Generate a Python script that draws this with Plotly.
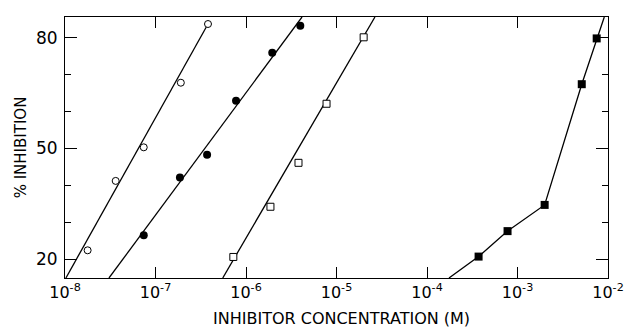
import plotly.graph_objects as go

# Data (concentration in M, % inhibition)
open_circle_x = [10**-7.75, 10**-7.44, 10**-7.13, 10**-6.72, 10**-6.42]
open_circle_y = [22.4, 41.2, 50.3, 67.8, 83.7]

filled_circle_x = [10**-7.13, 10**-6.73, 10**-6.43, 10**-6.11, 10**-5.71, 10**-5.40]
filled_circle_y = [26.5, 42.1, 48.3, 62.9, 75.9, 83.2]

open_square_x = [10**-6.14, 10**-5.73, 10**-5.42, 10**-5.11, 10**-4.70]
open_square_y = [20.6, 34.2, 46.1, 62.1, 80.1]

filled_square_x = [10**-3.43, 10**-3.11, 10**-2.70, 10**-2.29, 10**-2.125]
filled_square_y = [20.7, 27.6, 34.7, 67.4, 79.8]

# Drawn fit lines (end points)
open_circle_fit_x = [10**-7.99, 10**-6.42]
open_circle_fit_y = [14.9, 83.7]
filled_circle_fit_x = [10**-7.514, 10**-5.381]
filled_circle_fit_y = [14.9, 85.6]
open_square_fit_x = [10**-6.257, 10**-4.575]
open_square_fit_y = [14.9, 85.6]
filled_square_line_x = [10**-3.757] + filled_square_x + [10**-2.041]
filled_square_line_y = [14.9] + filled_square_y + [85.6]

x_tickvals = [1e-8, 1e-7, 1e-6, 1e-5, 1e-4, 1e-3, 1e-2]
x_ticktext = ["10<sup>-8</sup>", "10<sup>-7</sup>", "10<sup>-6</sup>", "10<sup>-5</sup>",
              "10<sup>-4</sup>", "10<sup>-3</sup>", "10<sup>-2</sup>"]
x_title = "INHIBITOR CONCENTRATION (M)"
y_title = "% INHIBITION"

FONT = "DejaVu Sans"
fig = go.Figure()

line_style = dict(color="black", width=1.3)
for lx, ly in [(open_circle_fit_x, open_circle_fit_y),
               (filled_circle_fit_x, filled_circle_fit_y),
               (open_square_fit_x, open_square_fit_y),
               (filled_square_line_x, filled_square_line_y)]:
    fig.add_trace(go.Scatter(x=lx, y=ly, mode="lines", line=line_style,
                             showlegend=False, hoverinfo="skip"))

fig.add_trace(go.Scatter(x=open_circle_x, y=open_circle_y, mode="markers",
                         marker=dict(symbol="circle", size=7, color="white",
                                     line=dict(color="black", width=1)),
                         showlegend=False))
fig.add_trace(go.Scatter(x=filled_circle_x, y=filled_circle_y, mode="markers",
                         marker=dict(symbol="circle", size=8, color="black"),
                         showlegend=False))
fig.add_trace(go.Scatter(x=open_square_x, y=open_square_y, mode="markers",
                         marker=dict(symbol="square", size=7, color="white",
                                     line=dict(color="black", width=1)),
                         showlegend=False))
fig.add_trace(go.Scatter(x=filled_square_x, y=filled_square_y, mode="markers",
                         marker=dict(symbol="square", size=8, color="black"),
                         showlegend=False))

# The page body has an 8px default margin, so the figure is 8px smaller
fig.update_layout(
    width=627, height=319,
    margin=dict(l=57, r=27, t=9, b=49),
    paper_bgcolor="white", plot_bgcolor="white",
    font=dict(family=FONT, color="black"),
    xaxis=dict(
        type="log", range=[-8, -2], automargin=False,
        tickmode="array", tickvals=x_tickvals, ticktext=x_ticktext,
        ticks="inside", ticklen=11, tickcolor="black", tickwidth=1,
        showline=True, linecolor="black", linewidth=1, mirror="ticks",
        showgrid=False, zeroline=False,
        tickfont=dict(size=16, family=FONT),
    ),
    yaxis=dict(
        range=[14.9, 85.6], automargin=False,
        tickmode="linear", tick0=20, dtick=30,
        ticks="inside", ticklen=12, tickcolor="black", tickwidth=1,
        minor=dict(tickmode="linear", tick0=20, dtick=10, ticks="inside",
                   ticklen=6, tickcolor="black", showgrid=False),
        showline=True, linecolor="black", linewidth=1, mirror="ticks",
        showgrid=False, zeroline=False,
        ticklabelstandoff=3,
        tickfont=dict(size=17, family=FONT),
        title=dict(text=y_title, font=dict(size=15, family=FONT), standoff=5),
    ),
    annotations=[dict(text=x_title, xref="paper", yref="paper", x=0.51, y=-0.157,
                      xanchor="center", yanchor="middle", showarrow=False,
                      font=dict(size=16, family=FONT, color="black"))],
)

fig.write_html("out.html")
